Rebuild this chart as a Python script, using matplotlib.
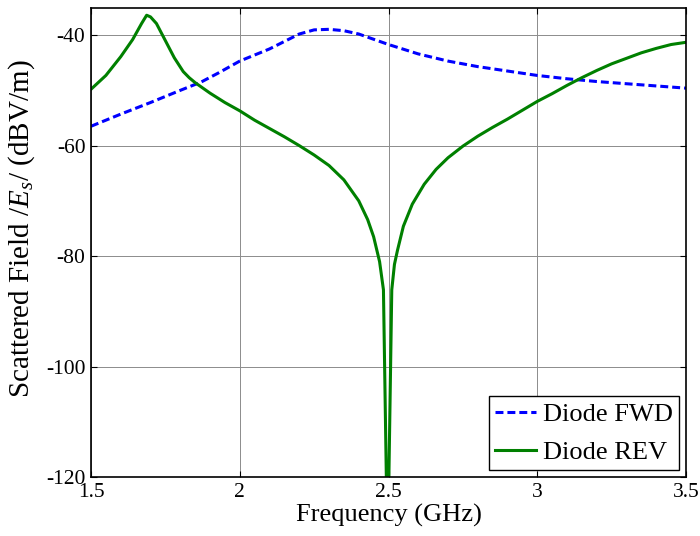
import matplotlib
matplotlib.use("Agg")
import matplotlib.pyplot as plt
import numpy as np

plt.rcParams["font.family"] = ["Liberation Serif", "DejaVu Serif"]
plt.rcParams["mathtext.fontset"] = "custom"
plt.rcParams["mathtext.rm"] = "Liberation Serif"
plt.rcParams["mathtext.it"] = "Liberation Serif:italic"
plt.rcParams["axes.unicode_minus"] = False

# forward-biased diode
fwd_f = [1.5, 1.6, 1.7, 1.8, 1.87, 1.93, 2.0, 2.1, 2.2, 2.25, 2.3, 2.35,
         2.4, 2.5, 2.6, 2.7, 2.8, 2.9, 3.0, 3.1, 3.2, 3.3, 3.4, 3.5]
fwd_e = [-56.5, -54.3, -52.2, -50.0, -48.5, -46.8, -44.7, -42.5, -39.8, -39.05,
         -38.95, -39.2, -39.8, -41.7, -43.4, -44.7, -45.7, -46.5, -47.3, -47.9,
         -48.4, -48.8, -49.2, -49.6]

# reverse-biased diode
rev_f = [1.5, 1.55, 1.6, 1.64, 1.67, 1.687, 1.70, 1.72, 1.75, 1.78, 1.81,
         1.83, 1.85, 1.9, 1.95, 2.0, 2.05, 2.1, 2.15, 2.2, 2.25, 2.3, 2.35,
         2.4, 2.43, 2.45, 2.47, 2.483, 2.497, 2.511, 2.52, 2.53, 2.55, 2.58,
         2.62, 2.66, 2.7, 2.75, 2.8, 2.85, 2.9, 2.95, 3.0, 3.05, 3.1, 3.15,
         3.2, 3.25, 3.3, 3.35, 3.4, 3.45, 3.5]
rev_e = [-49.8, -47.3, -43.9, -40.8, -37.9, -36.4, -36.7, -37.9, -41.0, -44.1,
         -46.6, -47.7, -48.6, -50.5, -52.2, -53.7, -55.4, -56.9, -58.4, -60.0,
         -61.7, -63.6, -66.2, -70.0, -73.4, -76.5, -81.0, -86.1, -135.0, -86.1,
         -81.5, -79.0, -74.6, -70.6, -67.0, -64.3, -62.2, -60.1, -58.3, -56.7,
         -55.2, -53.6, -52.0, -50.6, -49.1, -47.7, -46.4, -45.2, -44.2, -43.2,
         -42.4, -41.7, -41.3]

fig = plt.figure(figsize=(7, 5.36), dpi=100)
ax = fig.add_axes([0.13, 0.11, 0.85, 0.876])

ax.plot(fwd_f, fwd_e, color="blue", lw=2.2, dashes=(2.6, 1.3),
        label="Diode FWD")
ax.plot(rev_f, rev_e, color="green", lw=2.2, label="Diode REV")

ax.set_xlim(1.5, 3.5)
ax.set_ylim(-120, -35)
ax.set_xticks(np.arange(1.5, 3.51, 0.5))
ax.set_xticklabels(["1.5", "2", "2.5", "3", "3.5"])
ax.set_yticks(np.arange(-120, -39, 20))

ax.grid(True, color="#8c8c8c", lw=0.7)
ax.tick_params(direction="in", top=True, right=True, length=4,
               labelsize=15.5, pad=4)
for s in ax.spines.values():
    s.set_linewidth(1.2)

ax.set_xlabel("Frequency (GHz)", fontsize=19, labelpad=2)
ax.set_ylabel("Scattered Field $/E_s/$ (dBV/m)", fontsize=21)
ax.yaxis.set_label_coords(-0.09, 0.53)

leg = ax.legend(loc="lower right", fontsize=19, fancybox=False,
                edgecolor="black", framealpha=1, handlelength=1.55,
                handletextpad=0.25, borderpad=0.25, labelspacing=0.55,
                borderaxespad=0.25)
leg.get_frame().set_linewidth(1.0)

fig.savefig("out.png", dpi=100)
